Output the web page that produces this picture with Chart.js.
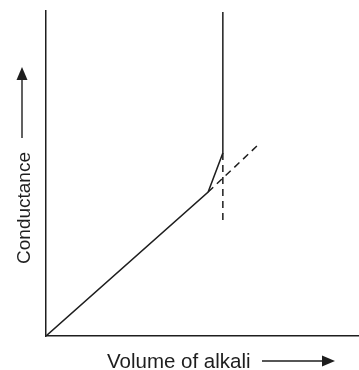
<!DOCTYPE html>
<html>
<head>
<meta charset="utf-8">
<script src="https://cdn.jsdelivr.net/npm/chart.js@4/dist/chart.umd.min.js"></script>
<style>
  html, body { margin: 0; padding: 0; background: #fff; }
  #wrap { width: 359px; height: 370px; position: relative; }
</style>
</head>
<body>
<div id="wrap"><canvas id="c"></canvas></div>
<script>
// Axis labels
const xLabel = "Volume of alkali";
const yLabel = "Conductance";

// Conductometric titration curve (arbitrary units, 0-100)
const curveX = [0, 51.8, 56.5, 56.5];
const curveY = [0, 44.3, 56.3, 99.7];
// Dashed extrapolation of the first branch
const extX = [51.8, 68.1];
const extY = [44.3, 59.1];
// Dashed vertical drop line at the end point
const dropX = [56.5, 56.5];
const dropY = [56.3, 35.7];

const toPts = (xs, ys) => xs.map((x, i) => ({ x: x, y: ys[i] }));
const INK = '#1e1e1e';

const labelPlugin = {
  id: 'labels',
  afterDraw(chart) {
    const ctx = chart.ctx;
    ctx.save();
    ctx.fillStyle = INK;
    ctx.strokeStyle = INK;
    ctx.lineWidth = 1.4;
    // X label
    ctx.font = '20.5px "Liberation Sans", Arial, sans-serif';
    ctx.textAlign = 'left';
    ctx.textBaseline = 'alphabetic';
    ctx.fillText(xLabel, 107, 368);
    // X arrow
    ctx.beginPath();
    ctx.moveTo(262, 361); ctx.lineTo(324, 361); ctx.stroke();
    ctx.beginPath();
    ctx.moveTo(335, 361); ctx.lineTo(322, 355.5); ctx.lineTo(322, 366.5); ctx.closePath(); ctx.fill();
    // Y label
    ctx.font = '19px "Liberation Sans", Arial, sans-serif';
    ctx.save();
    ctx.translate(30, 152);
    ctx.rotate(-Math.PI / 2);
    ctx.textAlign = 'right';
    ctx.fillText(yLabel, 0, 0);
    ctx.restore();
    // Y arrow
    ctx.beginPath();
    ctx.moveTo(22, 138); ctx.lineTo(22, 77); ctx.stroke();
    ctx.beginPath();
    ctx.moveTo(22, 67); ctx.lineTo(16.5, 80); ctx.lineTo(27.5, 80); ctx.closePath(); ctx.fill();
    ctx.restore();
  }
};

new Chart(document.getElementById('c'), {
  type: 'scatter',
  data: {
    datasets: [
      { data: toPts(curveX, curveY), showLine: true, borderColor: INK, borderWidth: 1.5, pointRadius: 0, tension: 0 },
      { data: toPts(extX, extY), showLine: true, borderColor: INK, borderWidth: 1.5, borderDash: [7, 5], pointRadius: 0 },
      { data: toPts(dropX, dropY), showLine: true, borderColor: INK, borderWidth: 1.5, borderDash: [7, 5], pointRadius: 0 }
    ]
  },
  options: {
    responsive: true,
    maintainAspectRatio: false,
    animation: false,
    layout: { padding: { left: 46, top: 11, right: 0, bottom: 34 } },
    plugins: { legend: { display: false }, tooltip: { enabled: false } },
    scales: {
      x: {
        type: 'linear', min: 0, max: 100,
        ticks: { display: false },
        grid: { display: false, drawTicks: false },
        border: { display: true, color: INK, width: 1.5 }
      },
      y: {
        type: 'linear', min: 0, max: 100,
        ticks: { display: false },
        grid: { display: false, drawTicks: false },
        border: { display: true, color: INK, width: 1.5 }
      }
    }
  },
  plugins: [labelPlugin]
});
</script>
</body>
</html>
